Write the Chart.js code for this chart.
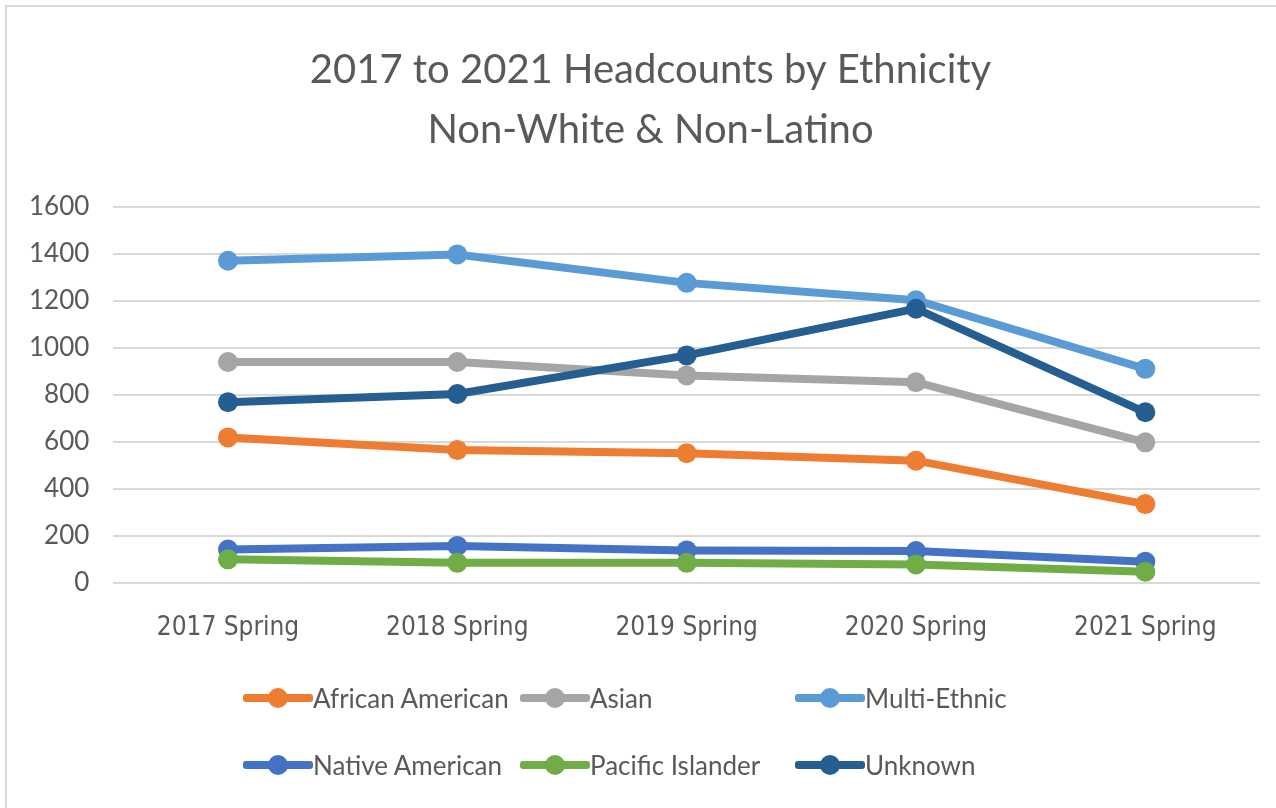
<!DOCTYPE html>
<html>
<head>
<meta charset="utf-8">
<script src="https://cdn.jsdelivr.net/npm/chart.js@4.4.1/dist/chart.umd.min.js"></script>
<style>
  html, body { margin: 0; padding: 0; background: #fff; }
  #wrap { position: relative; width: 1276px; height: 808px; overflow: hidden; }
  #frame { position: absolute; left: 5px; top: 5px; width: 1300px; height: 900px; border: 2px solid #d9d9d9; box-sizing: border-box; }
  #legenda { position: absolute; left: 243px; top: 672px; display: grid; grid-template-columns: 277px 275px 300px; row-gap: 15px;
             font-family: Lato, "Open Sans", sans-serif; font-size: 26px; color: #595959; }
  .item { display: flex; align-items: center; height: 52px; white-space: nowrap; }
  .simbolo { position: relative; width: 70px; height: 22px; }
  .simbolo .linha { position: absolute; left: 0; right: 0; top: 7px; height: 8px; border-radius: 3px; }
  .simbolo .ponto { position: absolute; left: 25px; top: 1px; width: 20px; height: 20px; border-radius: 50%; }
</style>
</head>
<body>
<div id="wrap">
  <canvas id="grafico" width="1276" height="808"></canvas>
  <div id="frame"></div>
  <div id="legenda"></div>
</div>
<script>
// Dados
const periodos = ["2017 Spring", "2018 Spring", "2019 Spring", "2020 Spring", "2021 Spring"];
const africanAmerican = [619, 565, 552, 520, 335];
const asian = [940, 940, 883, 854, 598];
const multiEthnic = [1371, 1398, 1277, 1203, 911];
const nativeAmerican = [142, 157, 138, 135, 90];
const pacificIslander = [100, 85, 85, 78, 47];
const unknown = [769, 804, 968, 1167, 726];

const nomes = ["African American", "Asian", "Multi-Ethnic", "Native American", "Pacific Islander", "Unknown"];
const valores = [africanAmerican, asian, multiEthnic, nativeAmerican, pacificIslander, unknown];
const cores = ["#ED7D31", "#A5A5A5", "#5B9BD5", "#4472C4", "#70AD47", "#255E91"];

const datasets = nomes.map((nome, i) => ({
  label: nome,
  data: valores[i],
  borderColor: cores[i],
  backgroundColor: cores[i],
  borderWidth: 8,
  pointRadius: 10,
  pointHoverRadius: 10,
  pointBorderWidth: 0,
  tension: 0,
  order: nomes.length - i   // series later in the list drawn on top
}));

// desloca o título um pouco para a direita, como no original
const ajusteTitulo = {
  id: "ajusteTitulo",
  afterLayout(chart) {
    if (chart.titleBlock) {
      chart.titleBlock.left += 18;
      chart.titleBlock.right += 18;
    }
  }
};

const ctx = document.getElementById("grafico").getContext("2d");
const grafico = new Chart(ctx, {
  type: "line",
  data: { labels: periodos, datasets: datasets },
  plugins: [ajusteTitulo],
  options: {
    responsive: false,
    animation: false,
    layout: { padding: { left: 5, right: 16, top: 0, bottom: 142 } },
    plugins: {
      legend: { display: false },
      tooltip: { enabled: false },
      title: {
        display: true,
        text: ["2017 to 2021 Headcounts by Ethnicity", "Non-White & Non-Latino"],
        color: "#595959",
        font: { family: "Lato, 'Open Sans', sans-serif", size: 40, weight: "normal", lineHeight: 1.5 },
        padding: { top: 40, bottom: 47 }
      }
    },
    scales: {
      x: {
        offset: true,
        grid: { display: false },
        border: { display: false },
        ticks: {
          color: "#595959",
          padding: 22,
          maxRotation: 0,
          font: { family: "'Liberation Sans Narrow', 'DejaVu Sans Condensed', Lato, sans-serif", size: 26 }
        }
      },
      y: {
        min: 0,
        max: 1600,
        ticks: {
          stepSize: 200,
          color: "#595959",
          padding: 24,
          font: { family: "Lato, 'Open Sans', sans-serif", size: 26 },
          callback: v => String(v)
        },
        grid: { color: "#d9d9d9", lineWidth: 2, drawTicks: false },
        border: { display: false }
      }
    }
  }
});

// Legenda em grade (3 colunas), gerada a partir dos datasets do gráfico
const legenda = document.getElementById("legenda");
grafico.data.datasets.forEach(ds => {
  const item = document.createElement("div");
  item.className = "item";
  item.innerHTML = `
    <span class="simbolo"><span class="linha" style="background:${ds.borderColor}"></span><span class="ponto" style="background:${ds.borderColor}"></span></span>
    <span>${ds.label}</span>
  `;
  legenda.appendChild(item);
});
</script>
</body>
</html>
